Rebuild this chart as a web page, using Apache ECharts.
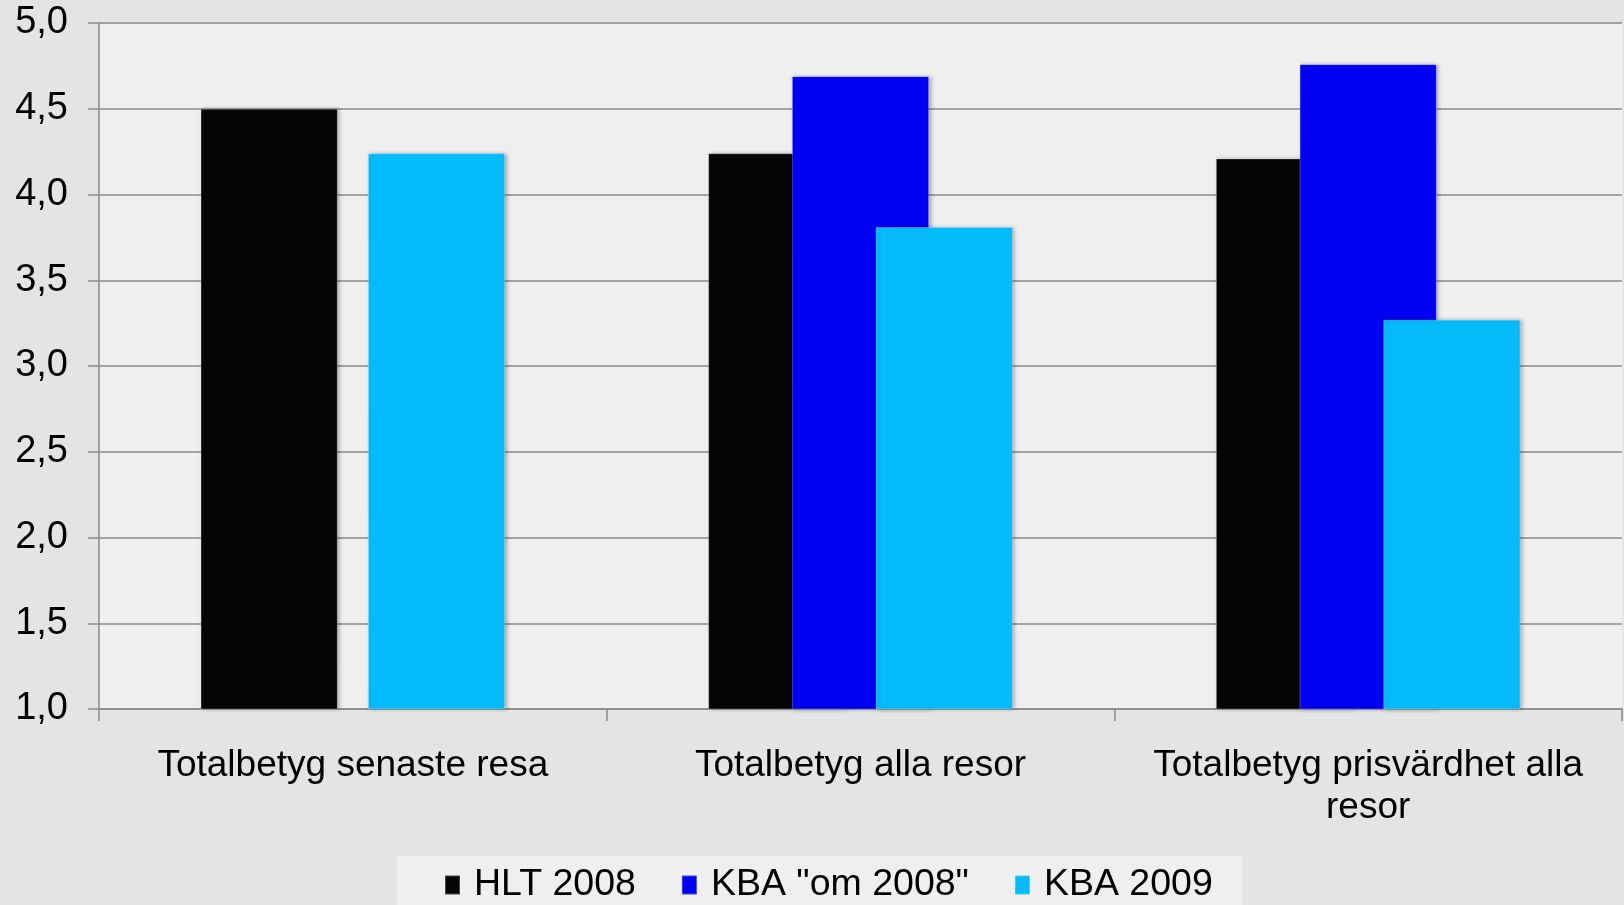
<!DOCTYPE html>
<html>
<head>
<meta charset="utf-8">
<script src="https://cdn.jsdelivr.net/npm/echarts@6/dist/echarts.min.js"></script>
<style>
  html, body { margin: 0; padding: 0; background: #e4e4e4; }
  #main { width: 1624px; height: 905px; }
</style>
</head>
<body>
<div id="main"></div>
<script>
// Data
var categories = ['Totalbetyg senaste resa', 'Totalbetyg alla resor', 'Totalbetyg prisvärdhet alla\nresor'];
var seriesNames = ['HLT 2008', 'KBA "om 2008"', 'KBA 2009'];
var hlt2008 = [4.50, 4.24, 4.21];
var kbaOm2008 = [null, 4.69, 4.76];
var kba2009 = [4.24, 3.81, 3.27];
var yTicks = { min: 1, max: 5, step: 0.5 };

var colors = ['#050505', '#0000f2', '#05bbf9'];
var font = 'Liberation Sans, Arial, sans-serif';

var chart = echarts.init(document.getElementById('main'));

function barSeries(name, data, color) {
  return {
    name: name,
    type: 'bar',
    data: data,
    barGap: '-39%',
    barCategoryGap: '40%',
    itemStyle: {
      color: color,
      borderColor: 'rgba(255,255,255,0.25)',
      borderWidth: 1,
      shadowColor: 'rgba(0,0,0,0.3)',
      shadowBlur: 4,
      shadowOffsetX: 2
    }
  };
}

var option = {
  backgroundColor: '#e4e4e4',
  animation: false,
  color: colors,
  textStyle: { fontFamily: font },
  grid: {
    left: 99, right: 2, top: 23, bottom: 196,
    show: true,
    backgroundColor: '#efefef',
    borderWidth: 0
  },
  legend: {
    top: 856,
    left: 397,
    backgroundColor: '#efefef',
    padding: [10, 29, 30, 47],
    itemGap: 45,
    itemWidth: 15,
    itemHeight: 19,
    icon: 'rect',
    textStyle: { fontSize: 37.5, color: '#000', fontFamily: font, padding: [0, 0, 0, 9] },
    data: seriesNames
  },
  xAxis: {
    type: 'category',
    data: categories,
    axisLine: { lineStyle: { color: '#8a8a8a', width: 1.5 } },
    axisTick: { show: true, length: 12, lineStyle: { color: '#8a8a8a', width: 1.5 } },
    axisLabel: {
      interval: 0,
      color: '#000', fontSize: 37, lineHeight: 42, margin: 36,
      fontFamily: font
    }
  },
  yAxis: {
    type: 'value',
    min: yTicks.min,
    max: yTicks.max,
    interval: yTicks.step,
    axisLine: { show: true, lineStyle: { color: '#8a8a8a', width: 1.5 } },
    axisTick: { show: true, length: 11, lineStyle: { color: '#8a8a8a', width: 1.5 } },
    splitLine: { lineStyle: { color: '#8a8a8a', width: 1.5 } },
    axisLabel: {
      color: '#000', fontSize: 38, margin: 31, fontFamily: font,
      formatter: function (v) { return v.toFixed(1).replace('.', ','); }
    }
  },
  series: [
    barSeries(seriesNames[0], hlt2008, colors[0]),
    barSeries(seriesNames[1], kbaOm2008, colors[1]),
    barSeries(seriesNames[2], kba2009, colors[2])
  ]
};

chart.setOption(option);
</script>
</body>
</html>
